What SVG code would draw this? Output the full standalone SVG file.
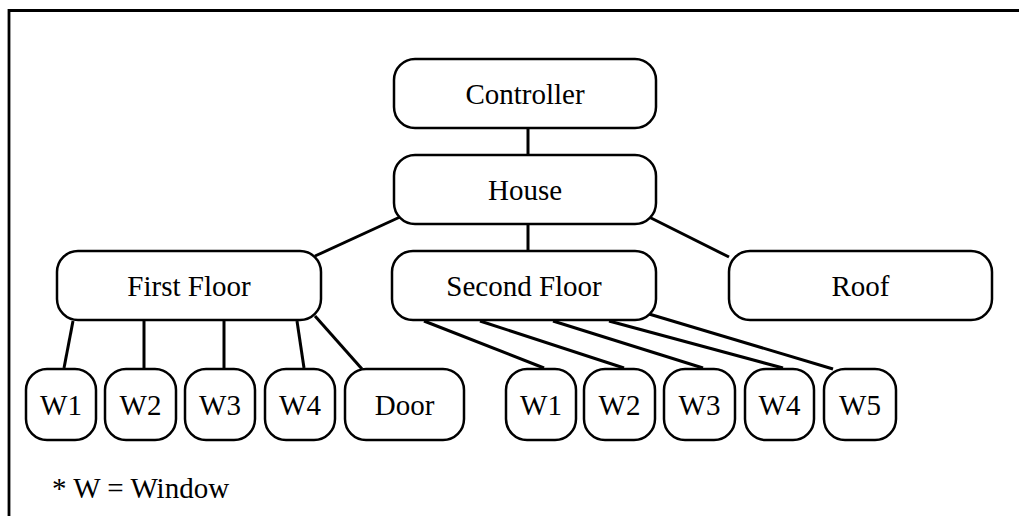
<svg xmlns="http://www.w3.org/2000/svg" width="1019" height="516" viewBox="0 0 1019 516">
<style>
.box{fill:#fff;stroke:#000;stroke-width:2.5}
.lbl{font-family:"Liberation Serif","DejaVu Serif",serif;font-size:29px;fill:#000;text-anchor:middle}
.con line{stroke:#000;stroke-width:3;stroke-linecap:butt}
</style>
<rect width="1019" height="516" fill="#fff"/>
<path d="M9,516 V10.5 H1019" fill="none" stroke="#000" stroke-width="2.8"/>
<g id="connectors" class="con">
<line x1="528" y1="129" x2="528" y2="154"/>
<line x1="400" y1="217" x2="315" y2="256"/>
<line x1="528" y1="225" x2="528" y2="250"/>
<line x1="649" y1="217" x2="729" y2="257"/>
<line x1="73" y1="321" x2="64" y2="368"/>
<line x1="144" y1="321" x2="144" y2="368"/>
<line x1="224" y1="321" x2="224" y2="368"/>
<line x1="297" y1="321" x2="304" y2="368"/>
<line x1="315" y1="316" x2="362" y2="369"/>
<line x1="424" y1="321" x2="544" y2="368"/>
<line x1="480" y1="321" x2="624" y2="368"/>
<line x1="553" y1="321" x2="703" y2="368"/>
<line x1="609" y1="321" x2="783" y2="368"/>
<line x1="649" y1="314" x2="833" y2="369"/>
</g>
<g id="controller"><rect class="box" x="394" y="59" width="262" height="69" rx="21"/><text class="lbl" x="525" y="103.5">Controller</text></g>
<g id="house"><rect class="box" x="394" y="155" width="262" height="69" rx="21"/><text class="lbl" x="525" y="200">House</text></g>
<g id="first-floor"><rect class="box" x="57" y="251" width="264" height="69" rx="21"/><text class="lbl" x="189" y="296">First Floor</text></g>
<g id="second-floor"><rect class="box" x="392" y="251" width="264" height="69" rx="21"/><text class="lbl" x="524" y="296">Second Floor</text></g>
<g id="roof"><rect class="box" x="729" y="251" width="263" height="69" rx="21"/><text class="lbl" x="860.5" y="296">Roof</text></g>
<g id="ff-w1"><rect class="box" x="26" y="369" width="70" height="71" rx="21"/><text class="lbl" x="61" y="415">W1</text></g>
<g id="ff-w2"><rect class="box" x="105" y="369" width="71" height="71" rx="21"/><text class="lbl" x="140.5" y="415">W2</text></g>
<g id="ff-w3"><rect class="box" x="185" y="369" width="70" height="71" rx="21"/><text class="lbl" x="220" y="415">W3</text></g>
<g id="ff-w4"><rect class="box" x="265" y="369" width="70" height="71" rx="21"/><text class="lbl" x="300" y="415">W4</text></g>
<g id="ff-door"><rect class="box" x="345" y="369" width="119" height="71" rx="21"/><text class="lbl" x="404.5" y="415">Door</text></g>
<g id="sf-w1"><rect class="box" x="506" y="369" width="70" height="71" rx="21"/><text class="lbl" x="541" y="415">W1</text></g>
<g id="sf-w2"><rect class="box" x="584" y="369" width="71" height="71" rx="21"/><text class="lbl" x="619.5" y="415">W2</text></g>
<g id="sf-w3"><rect class="box" x="664" y="369" width="71" height="71" rx="21"/><text class="lbl" x="699.5" y="415">W3</text></g>
<g id="sf-w4"><rect class="box" x="745" y="369" width="69" height="71" rx="21"/><text class="lbl" x="779.5" y="415">W4</text></g>
<g id="sf-w5"><rect class="box" x="824" y="369" width="72" height="71" rx="21"/><text class="lbl" x="860" y="415">W5</text></g>
<text class="lbl" x="52" y="498" style="text-anchor:start">* W = Window</text>
</svg>
